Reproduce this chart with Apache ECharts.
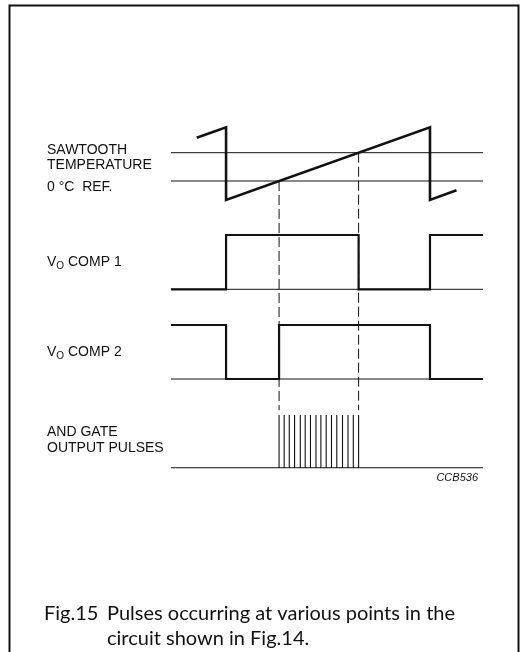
<!DOCTYPE html>
<html><head><meta charset="utf-8">
<script src="https://cdn.jsdelivr.net/npm/echarts@6/dist/echarts.min.js"></script>
<style>html,body{margin:0;padding:0;background:#fff}#c{width:526px;height:652px}</style>
</head><body><div id="c"></div>
<script>
// time axis (arbitrary units)
const timeRange = [0, 15.3];
// sawtooth: [time, voltage] ; 0 = 0°C reference, 1 = temperature level
const sawtooth = [[1.26, 1.53], [2.7, 1.9], [2.7, -0.67], [12.7, 1.9], [12.7, -0.67], [14.0, -0.33]];
const tempLevel = 1;
const refLevel = 0;
// comparator outputs: [time, level] held until next point
const comp1 = [[0, 0], [2.7, 1], [9.2, 0], [12.7, 1], [15.3, 1]];
const comp2 = [[0, 1], [2.7, 0], [5.3, 1], [12.7, 0], [15.3, 0]];
// AND gate pulse times
const pulseTimes = [5.3, 5.55, 5.8, 6.06, 6.34, 6.58, 6.84, 7.11, 7.35, 7.61, 7.87, 8.13, 8.41, 8.68, 8.94, 9.2];
// crossing instants (dashed markers): [time, level on sawtooth]
const crossings = [[5.3, 0], [9.2, 1]];
const dashBottom = -8.1;

const labelFont = '"Liberation Sans", Arial, sans-serif';
const capFont = 'Lato, "Open Sans", sans-serif';

const chart = echarts.init(document.getElementById('c'), null, {renderer: 'canvas'});

const grids = [
  {left: 171, width: 312, top: 124.4, height: 84.9},
  {left: 171, width: 312, top: 235, height: 54.3},
  {left: 171, width: 312, top: 325, height: 54},
  {left: 171, width: 312, top: 415, height: 52.7}
];
const xAxes = grids.map((g, i) => ({gridIndex: i, type: 'value', min: timeRange[0], max: timeRange[1], show: false}));
const yAxes = [
  {gridIndex: 0, type: 'value', min: -1, max: 2, show: false},
  {gridIndex: 1, type: 'value', min: 0, max: 1, show: false},
  {gridIndex: 2, type: 'value', min: 0, max: 1, show: false},
  {gridIndex: 3, type: 'value', min: 0, max: 1, show: false}
];

function thin(idx, level, w) {
  return {type: 'line', xAxisIndex: idx, yAxisIndex: idx, symbol: 'none', silent: true, clip: false,
    data: [[timeRange[0], level], [timeRange[1], level]], lineStyle: {color: '#111', width: w || 1}};
}

const pulseData = [[timeRange[0], 0]];
pulseTimes.forEach(t => { pulseData.push([t, 0], [t, 1], [t, 0]); });
pulseData.push([timeRange[1], 0]);

const series = [
  thin(0, tempLevel), thin(0, refLevel),
  {type: 'line', xAxisIndex: 0, yAxisIndex: 0, symbol: 'none', clip: false, data: sawtooth,
    lineStyle: {color: '#111', width: 2.6, join: 'miter'}},
  thin(1, 0),
  {type: 'line', xAxisIndex: 1, yAxisIndex: 1, symbol: 'none', clip: false, step: 'end', data: comp1,
    lineStyle: {color: '#111', width: 2.2, join: 'miter'}},
  thin(2, 0),
  {type: 'line', xAxisIndex: 2, yAxisIndex: 2, symbol: 'none', clip: false, step: 'end', data: comp2,
    lineStyle: {color: '#111', width: 2.2, join: 'miter'}},
  {type: 'line', xAxisIndex: 3, yAxisIndex: 3, symbol: 'none', clip: false, data: pulseData,
    lineStyle: {color: '#111', width: 1.1}}
];
crossings.forEach(c => {
  series.push({type: 'line', xAxisIndex: 0, yAxisIndex: 0, symbol: 'none', clip: false,
    data: [[c[0], c[1]], [c[0], dashBottom]],
    lineStyle: {color: '#111', width: 1, type: [10, 4]}});
});

function txt(x, y, text, extra) {
  return Object.assign({type: 'text', x: x, y: y, style: Object.assign({text: text, fill: '#111',
    font: '14px ' + labelFont, textVerticalAlign: 'middle'}, extra || {})});
}
function vLabel(y, n) {
  return {type: 'text', x: 47, y: y, style: {
    text: '{v|V}{s|O}{v| COMP ' + n + '}', textVerticalAlign: 'middle', fill: '#111',
    rich: {v: {font: '14px ' + labelFont, fill: '#111'}, s: {font: '10px ' + labelFont, fill: '#111', padding: [8, 0, 0, 0]}}
  }};
}
function cap(x, y, text) {
  return {type: 'text', x: x, y: y, style: {text: text, font: '20px ' + capFont, fill: '#111', textVerticalAlign: 'alphabetic'}};
}

const graphics = [
  {type: 'rect', shape: {x: 9.5, y: 5.5, width: 509, height: 700}, style: {fill: null, stroke: '#111', lineWidth: 2}},
  txt(47, 150.5, 'SAWTOOTH'),
  txt(47, 165.5, 'TEMPERATURE'),
  txt(47, 187.5, '0 °C  REF.'),
  vLabel(262, 1),
  vLabel(352, 2),
  txt(47, 432.5, 'AND GATE'),
  txt(47, 448.5, 'OUTPUT PULSES'),
  txt(478, 478, 'CCB536', {font: 'italic 11px ' + labelFont, textAlign: 'right'}),
  cap(44, 604, 'Fig.15'),
  cap(107, 604, 'Pulses occurring at various points in the'),
  cap(107, 629, 'circuit shown in Fig.14.')
];

chart.setOption({
  animation: false,
  backgroundColor: '#fff',
  grid: grids,
  xAxis: xAxes,
  yAxis: yAxes,
  series: series,
  graphic: graphics
});
</script></body></html>
